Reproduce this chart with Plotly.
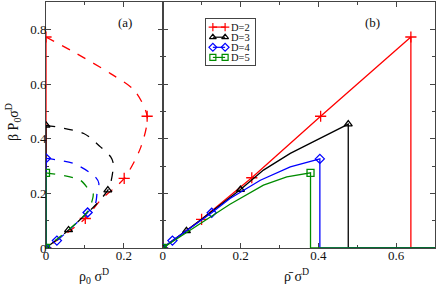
import plotly.graph_objects as go

# ---- data ----
dims = ["D=2", "D=3", "D=4", "D=5"]
colors = ["#ff0000", "#000000", "#0000ff", "#008b00"]
symbols = ["cross-thin-open", "triangle-up-open", "diamond-open", "square-open"]

# panel (a): rho0 sigma^D vs beta P0 sigma^D (dashed curves)
a_x = [
    [0.0, 0.08, 0.166, 0.227, 0.26, 0.244, 0.201, 0.14, 0.101, 0.0],
    [0.0, 0.097, 0.14, 0.166, 0.173, 0.166, 0.159, 0.132, 0.058, 0.0],
    [0.0, 0.071, 0.127, 0.136, 0.132, 0.127, 0.107, 0.028, 0.0],
    [0.0, 0.088, 0.114, 0.121, 0.119, 0.105, 0.0],
]
a_y = [
    [0.772, 0.71, 0.638, 0.577, 0.482, 0.37, 0.255, 0.175, 0.108, 0.0],
    [0.449, 0.419, 0.37, 0.334, 0.309, 0.236, 0.212, 0.164, 0.066, 0.0],
    [0.328, 0.309, 0.26, 0.236, 0.212, 0.163, 0.13, 0.027, 0.0],
    [0.275, 0.248, 0.206, 0.2, 0.175, 0.13, 0.0],
]
a_mx = [
    [0.0, 0.26, 0.201, 0.101, 0.0],
    [0.0, 0.159, 0.058, 0.0],
    [0.0, 0.107, 0.028, 0.0],
    [0.0, 0.0],
]
a_my = [
    [0.772, 0.482, 0.255, 0.108, 0.0],
    [0.449, 0.212, 0.066, 0.0],
    [0.328, 0.13, 0.027, 0.0],
    [0.275, 0.0],
]

# panel (b): mean density vs beta P0 sigma^D (solid curves)
b_x = [
    [0.0, 0.1, 0.229, 0.406, 0.638],
    [0.0, 0.061, 0.2, 0.259, 0.328, 0.397, 0.477],
    [0.0, 0.025, 0.126, 0.173, 0.251, 0.328, 0.404],
    [0.0, 0.13, 0.173, 0.259, 0.319, 0.38],
]
b_y = [
    [0.0, 0.105, 0.257, 0.482, 0.772],
    [0.0, 0.063, 0.214, 0.285, 0.346, 0.395, 0.453],
    [0.0, 0.027, 0.129, 0.181, 0.248, 0.297, 0.326],
    [0.0, 0.121, 0.16, 0.23, 0.26, 0.275],
]
b_mx = [
    [0.0, 0.1, 0.229, 0.406, 0.638],
    [0.0, 0.061, 0.2, 0.477],
    [0.0, 0.025, 0.126, 0.404],
    [0.0, 0.38],
]
b_my = [
    [0.0, 0.105, 0.257, 0.482, 0.772],
    [0.0, 0.063, 0.214, 0.453],
    [0.0, 0.027, 0.129, 0.326],
    [0.0, 0.275],
]
x_end = 0.7

FONT = "'Liberation Serif', 'Times New Roman', serif"
fig = go.Figure()

for i, name in enumerate(dims):
    c = colors[i]
    msize = 8 if i == 0 else 7
    mk = dict(symbol=symbols[i], size=msize, color=c, line=dict(color=c, width=1.3))
    # panel a dashed curve
    fig.add_trace(go.Scatter(x=a_x[i], y=a_y[i], mode="lines",
                             line=dict(color=c, width=1.3, dash="dash", shape="spline", smoothing=0.8),
                             xaxis="x", yaxis="y", showlegend=False, hoverinfo="skip"))
    fig.add_trace(go.Scatter(x=[0, 0], y=[0, a_y[i][0]], mode="lines", line=dict(color=c, width=1.3),
                             xaxis="x", yaxis="y", showlegend=False, hoverinfo="skip"))
    fig.add_trace(go.Scatter(x=a_mx[i], y=a_my[i], mode="markers", marker=mk,
                             xaxis="x", yaxis="y", showlegend=False, hoverinfo="skip"))
    # panel b solid curve with vertical drop and baseline
    bx = b_x[i] + [b_x[i][-1], x_end]
    by = b_y[i] + [0.0, 0.0]
    fig.add_trace(go.Scatter(x=bx, y=by, mode="lines", line=dict(color=c, width=1.3),
                             xaxis="x2", yaxis="y2", showlegend=False, hoverinfo="skip"))
    fig.add_trace(go.Scatter(x=b_mx[i], y=b_my[i], mode="markers", marker=mk,
                             xaxis="x2", yaxis="y2", showlegend=False, hoverinfo="skip"))

# ---- hand-drawn legend in its own small axes (rows by index) ----
legend_annots = []
for i, name in enumerate(dims):
    c = colors[i]
    mk = dict(symbol=symbols[i], size=6, color=c, line=dict(color=c, width=1.2))
    fig.add_trace(go.Scatter(x=[0.14, 0.39], y=[-i, -i], mode="lines+markers", marker=mk,
                             line=dict(color=c, width=1.2), xaxis="x3", yaxis="y3",
                             showlegend=False, hoverinfo="skip", cliponaxis=False))
    legend_annots.append(dict(text=name, x=0.47, y=-i, xref="x3", yref="y3", xanchor="left",
                              yanchor="middle", showarrow=False,
                              font=dict(family=FONT, size=10.5, color="#111")))

axis_common = dict(showline=True, linecolor="#444", linewidth=1, mirror="allticks", ticks="inside",
                   ticklen=5, tickcolor="#444", showgrid=False, zeroline=False,
                   tickfont=dict(family=FONT, size=13, color="#111"))
minor = dict(ticks="inside", ticklen=3, tickcolor="#444", dtick=0.1, tick0=0)

PL, PR, PT, PB = 46, 1, 2, 41
W, H = 436, 289
pw, ph = W - PL - PR, H - PT - PB


def px_x(px):
    return (px - PL) / pw


def px_y(py):
    return (H - PB - py) / ph


def note(text, x, y, size=14, angle=0):
    return dict(text=text, x=px_x(x), y=px_y(y), xref="paper", yref="paper", xanchor="center",
                yanchor="middle", showarrow=False, textangle=angle,
                font=dict(family=FONT, size=size, color="#111"))


fig.update_layout(
    width=W, height=H,
    margin=dict(l=PL, r=PR, t=PT, b=PB),
    paper_bgcolor="white", plot_bgcolor="white",
    font=dict(family=FONT, color="#111"),
    showlegend=False,
    xaxis=dict(domain=[0, 0.3], range=[0, 0.3], tickvals=[0, 0.2], ticktext=["0", "0.2"],
               minor=minor, layer="below traces", ticklabelstandoff=-5, **axis_common),
    yaxis=dict(domain=[0, 1], range=[0, 0.9], tickvals=[0, 0.2, 0.4, 0.6, 0.8],
               ticktext=["0", "0.2", "0.4", "0.6", "0.8"], ticklabelstandoff=-4,
               minor=minor, anchor="x", layer="below traces", **axis_common),
    xaxis2=dict(domain=[0.3, 1], range=[0, 0.7], tickvals=[0, 0.2, 0.4, 0.6],
                ticktext=["0", "0.2", "0.4", "0.6"], ticklabelstandoff=-5,
                minor=minor, anchor="y2", layer="below traces", **axis_common),
    yaxis2=dict(domain=[0, 1], range=[0, 0.9], tickvals=[0, 0.2, 0.4, 0.6, 0.8], showticklabels=False,
                minor=minor, anchor="x2", layer="below traces", **axis_common),
    xaxis3=dict(domain=[px_x(206), px_x(255)], range=[0, 1], anchor="y3", showline=True, mirror=True,
                linecolor="#444", linewidth=1, showticklabels=False, ticks="", showgrid=False, zeroline=False),
    yaxis3=dict(domain=[px_y(65), px_y(19)], range=[-3.75, 0.8], anchor="x3", showline=True, mirror=True,
                linecolor="#444", linewidth=1, showticklabels=False, ticks="", showgrid=False, zeroline=False),
    annotations=[
        note("(a)", 125, 23, 13),
        note("(b)", 372, 23, 13),
        note("ρ<sub>0</sub> σ<sup>D</sup>", 94, 276),
        note("ρ̄ σ<sup>D</sup>", 296, 275),
        note("β P<sub>0</sub>σ<sup>D</sup>", 13, 122, 14, -90),
    ] + legend_annots,
)

fig.write_html("out.html", config={"displayModeBar": False},
               post_script="document.body.style.margin='0';document.body.style.padding='0';")
